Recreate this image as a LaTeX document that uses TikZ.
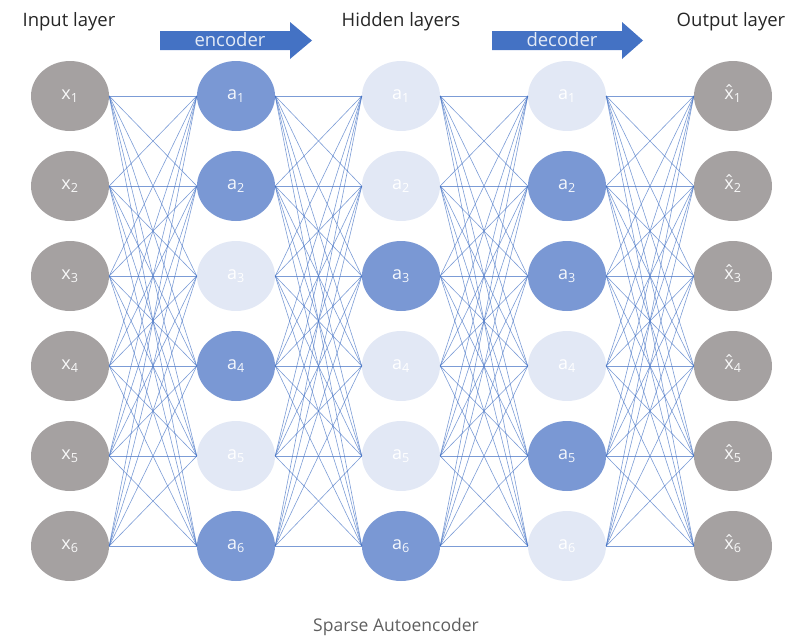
\documentclass[tikz,border=0pt]{standalone}
\usepackage{fontspec}
\setmainfont{Open Sans}
\usepackage{tikz}
\usetikzlibrary{positioning,shapes.geometric}
\definecolor{cellgray}{RGB}{165,161,161}
\definecolor{cellblue}{RGB}{122,152,212}
\definecolor{cellpale}{RGB}{226,232,245}
\definecolor{wireblue}{RGB}{68,114,196}
\definecolor{bannerblue}{RGB}{68,114,196}
\definecolor{captiongray}{RGB}{95,95,95}
\tikzset{
  cell/.style={
    ellipse,
    minimum width=78pt,
    minimum height=70pt,
    inner sep=0pt,
    font=\fontsize{18}{21}\selectfont},
  inputcell/.style={cell, fill=cellgray, text=white!92!cellgray},
  activecell/.style={cell, fill=cellblue, text=white!92!cellblue},
  idlecell/.style={cell, fill=cellpale, text=white},
  link/.style={draw=wireblue, line width=0.6pt, opacity=0.7},
  banner/.style={fill=bannerblue},
  bannertext/.style={anchor=base, text=white!85!bannerblue,
    font=\fontsize{18.5}{22}\selectfont},
  heading/.style={anchor=base, text=black!85,
    font=\fontsize{18.5}{22}\selectfont},
  caption/.style={anchor=base, text=captiongray,
    font=\fontsize{17.5}{20}\selectfont},
}
\newcommand{\xhat}{\ooalign{x\cr\hidewidth\raisebox{0.06em}{\char"02C6}\hidewidth\cr}}

\begin{document}
\begin{tikzpicture}[x=1pt, y=-1pt]
		\useasboundingbox (0,0) rectangle (796,637);
		% layers
		\foreach \i in {1,...,6}
			\node[inputcell] (in\i) at (70,{96+90*(\i-1)}) {x\textsubscript{\i}};
		\foreach \i/\s in {1/activecell,2/activecell,3/idlecell,4/activecell,5/idlecell,6/activecell}
			\node[\s] (enc\i) at (236,{96+90*(\i-1)}) {a\textsubscript{\i}};
		\foreach \i/\s in {1/idlecell,2/idlecell,3/activecell,4/idlecell,5/idlecell,6/activecell}
			\node[\s] (mid\i) at (401,{96+90*(\i-1)}) {a\textsubscript{\i}};
		\foreach \i/\s in {1/idlecell,2/activecell,3/activecell,4/idlecell,5/activecell,6/idlecell}
			\node[\s] (dec\i) at (567,{96+90*(\i-1)}) {a\textsubscript{\i}};
		\foreach \i in {1,...,6}
			\node[inputcell] (out\i) at (733,{96+90*(\i-1)}) {\xhat\textsubscript{\i}};
		
		% weights
		\foreach \l/\n in {in/enc, enc/mid, mid/dec, dec/out}
			\foreach \i in {1,...,6}
				\foreach \j in {1,...,6}
					\draw[link] (\l\i.east) -- (\n\j.west);
		
		% headings
		\node[heading] (input-title) at (69,27) {Input layer};
		\node[heading] (hidden-title) at (401,27) {Hidden layers};
		\node[heading] (output-title) at (731,27) {Output layer};
		
		% encoder / decoder arrows
		\fill[banner] (160,31) -- (290,31) -- (290,22) -- (312,40.5)
			-- (290,59) -- (290,50) -- (160,50) -- cycle;
		\node[bannertext] (encoder) at (230,46) {encoder};
		\fill[banner] (492,31) -- (622,31) -- (622,22) -- (643,40.5)
			-- (622,59) -- (622,50) -- (492,50) -- cycle;
		\node[bannertext] (decoder) at (562,46) {decoder};
		
		\node[caption] (title) at (396,631) {Sparse Autoencoder};
	\end{tikzpicture}
\end{document}
